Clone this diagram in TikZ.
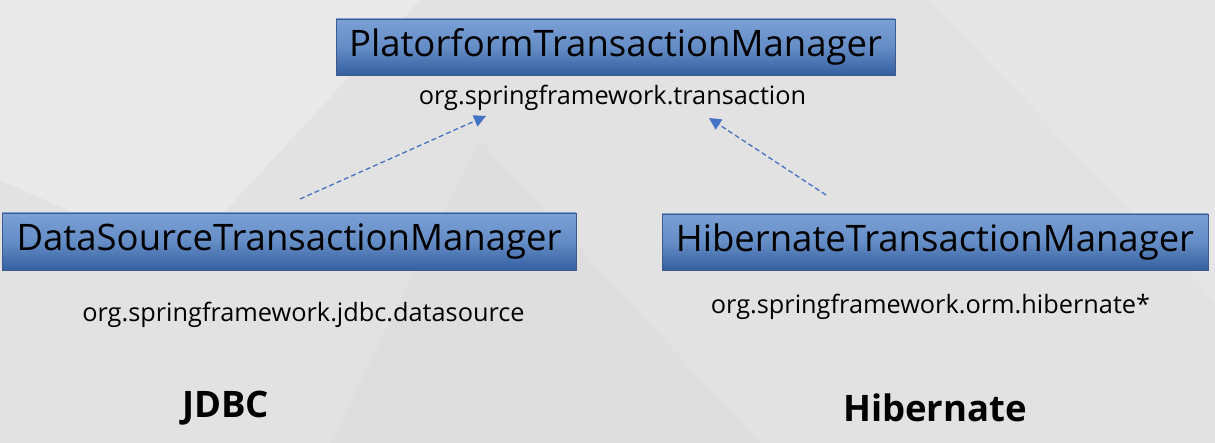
\documentclass[tikz,border=0pt]{standalone}
\usepackage{fontspec}
\setmainfont{Open Sans}
\usetikzlibrary{arrows.meta}
\definecolor{bg}{RGB}{226,226,226}
\definecolor{boxtop}{RGB}{122,160,214}
\definecolor{boxbot}{RGB}{52,96,160}
\definecolor{boxline}{RGB}{60,90,140}
\definecolor{arrowc}{RGB}{68,114,196}
\tikzset{
  mgr/.style={draw=boxline, line width=0.8pt, top color=boxtop, bottom color=boxbot,
    middle color=boxtop!70!boxbot, inner sep=0pt, font=\fontsize{36.5}{40}\selectfont, text=black},
  pkg/.style={inner sep=0pt, font=\fontsize{25.3}{28}\selectfont, text=black},
  tech/.style={inner sep=0pt, font=\fontsize{36.5}{42}\selectfont\bfseries, text=black},
  dep/.style={draw=arrowc, line width=1.3pt, dash pattern=on 5pt off 3pt, -{Triangle[length=12pt,width=12pt]}}
}
\begin{document}
\begin{tikzpicture}[x=1pt,y=-1pt]
\fill[bg] (0,0) rectangle (1215,443);
\useasboundingbox (0,0) rectangle (1215,443);
\fill[white,opacity=0.25] (0,0) -- (420,0) -- (180,260) -- (0,180) -- cycle;
\fill[white,opacity=0.15] (1215,0) -- (930,0) -- (1215,300) -- cycle;
\fill[black,opacity=0.015] (480,140) -- (760,443) -- (330,443) -- cycle;

\node[mgr, minimum width=559pt, minimum height=56pt] (top) at (615.5,47) {PlatorformTransactionManager};
\node[pkg] (topsub) at (612.5,98) {org.springframework.transaction};
\node[mgr, minimum width=574pt, minimum height=57pt] (ds) at (289,241.5) {DataSourceTransactionManager};
\node[mgr, minimum width=546pt, minimum height=56pt] (hb) at (935,242) {HibernateTransactionManager};
\node[pkg] (dssub) at (303.5,315) {org.springframework.jdbc.datasource};
\node[pkg] (hbsub) at (930.5,307) {org.springframework.orm.hibernate*};
\node[tech] (jdbc) at (225.5,408) {JDBC};
\node[tech] (hib) at (935,408) {Hibernate};

\coordinate (a1) at (300,199);
\coordinate (a2) at (486,116);
\coordinate (b1) at (826,195);
\coordinate (b2) at (709,118);
\draw[dep] (a1) -- (a2);
\draw[dep] (b1) -- (b2);
\end{tikzpicture}
\end{document}
